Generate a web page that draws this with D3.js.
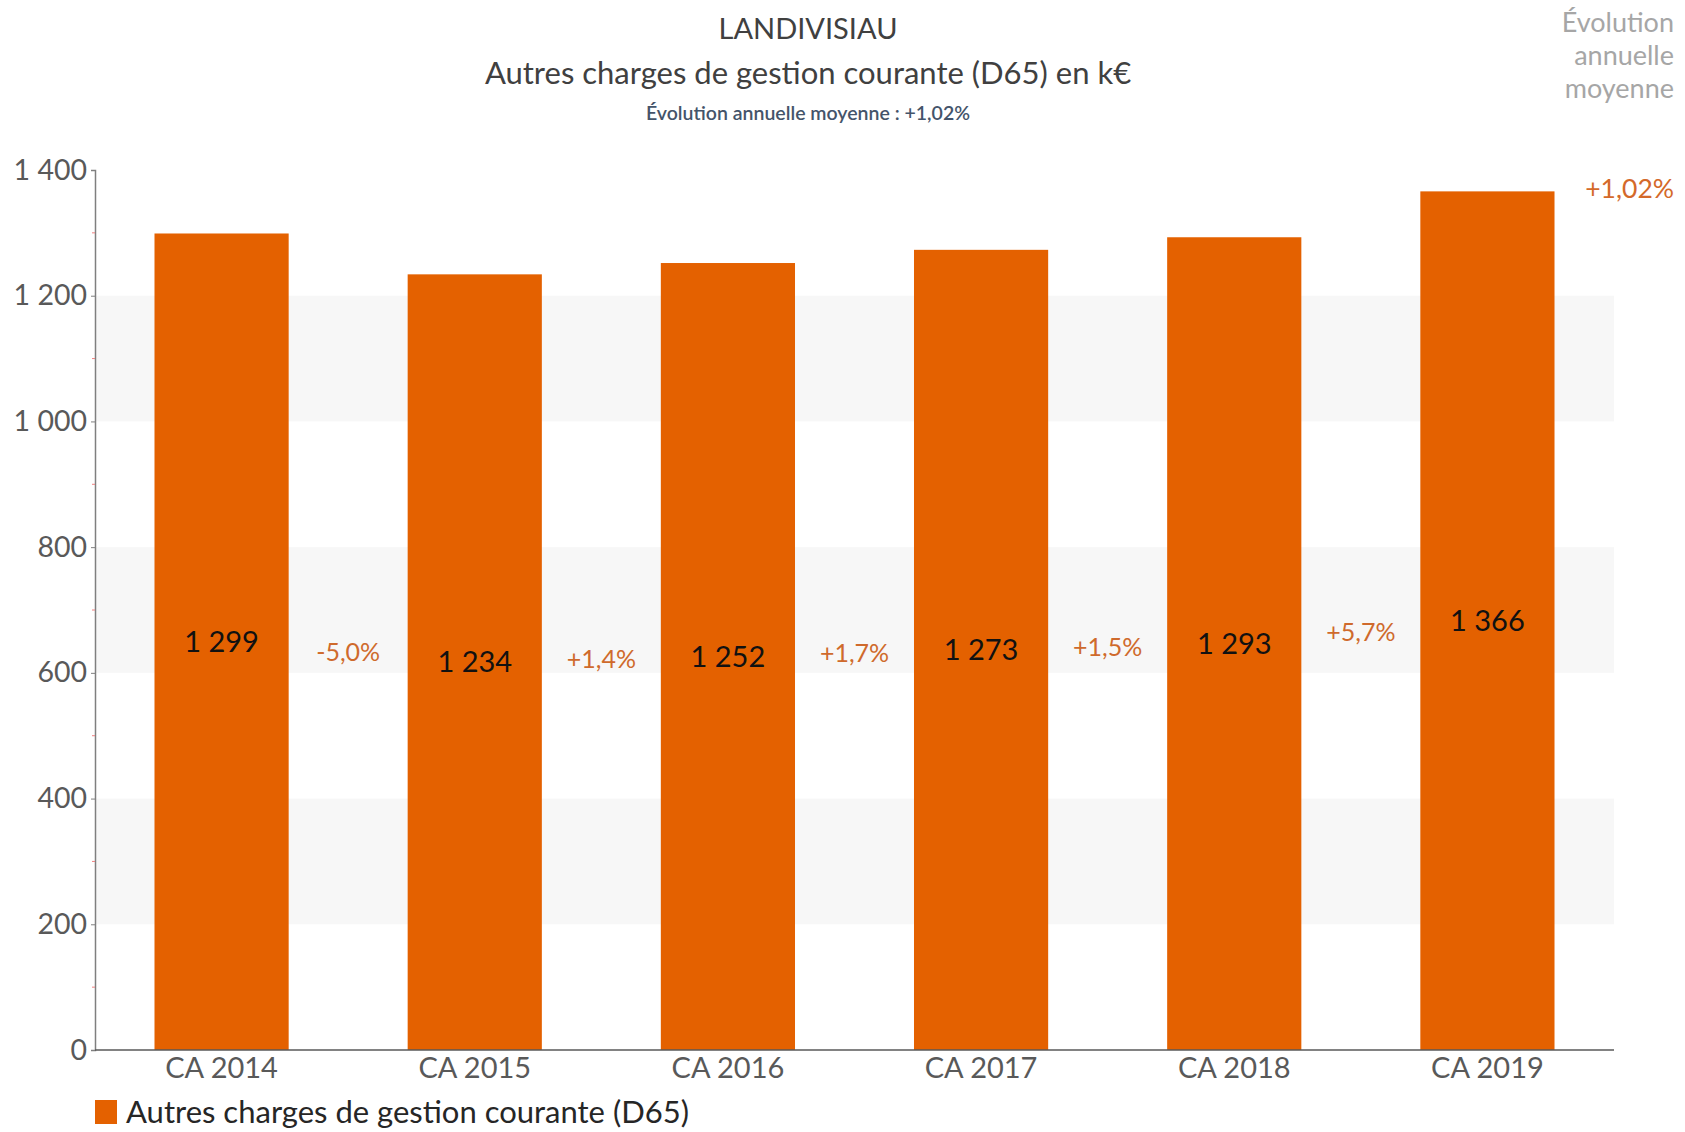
<!DOCTYPE html>
<html>
<head>
<meta charset="utf-8">
<script src="https://cdn.jsdelivr.net/npm/d3@7"></script>
<style>
  body { margin: 0; background: #fff; }
  text { font-family: Lato, "Open Sans", sans-serif; }
</style>
</head>
<body>
<div id="chart"></div>
<script>
// data
const categories = ["CA 2014", "CA 2015", "CA 2016", "CA 2017", "CA 2018", "CA 2019"];
const values = [1299, 1234, 1252, 1273, 1293, 1366];
const changes = ["-5,0%", "+1,4%", "+1,7%", "+1,5%", "+5,7%"];
const yTicks = [0, 200, 400, 600, 800, 1000, 1200, 1400];
const avgChange = "+1,02%";

const width = 1685, height = 1132;
const margin = { left: 95, right: 71, top: 170, bottom: 82 };
const orange = "#e46100";

const svg = d3.select("#chart").append("svg")
  .attr("width", width)
  .attr("height", height);

const x = d3.scaleBand()
  .domain(categories)
  .range([margin.left, width - margin.right])
  .paddingInner(0.47)
  .paddingOuter(0.235);

const y = d3.scaleLinear()
  .domain([0, 1400])
  .range([height - margin.bottom, margin.top]);

// shaded bands
const bands = [[200, 400], [600, 800], [1000, 1200]];
svg.selectAll("rect.band")
  .data(bands)
  .enter().append("rect")
  .attr("class", "band")
  .attr("x", margin.left)
  .attr("width", width - margin.right - margin.left)
  .attr("y", d => y(d[1]))
  .attr("height", d => y(d[0]) - y(d[1]))
  .attr("fill", "#f7f7f7");

// bars
svg.selectAll("rect.bar")
  .data(values)
  .enter().append("rect")
  .attr("class", "bar")
  .attr("x", (d, i) => x(categories[i]))
  .attr("width", x.bandwidth())
  .attr("y", d => y(d))
  .attr("height", d => y(0) - y(d))
  .attr("fill", orange);

// y axis
const yAxis = d3.axisLeft(y).tickValues(yTicks).tickSize(4)
  .tickFormat(d => d3.format(",")(d).replace(",", " "));
const gy = svg.append("g")
  .attr("transform", `translate(${margin.left},0)`)
  .call(yAxis);
gy.select(".domain").attr("stroke", "#7f7f7f").attr("stroke-width", 1.5);
gy.selectAll(".tick line").attr("stroke", "#7f7f7f");
gy.selectAll(".tick text")
  .attr("x", -8)
  .attr("fill", "#595959")
  .style("font-size", "28.5px")
  .style("font-family", "Lato, sans-serif");

// minor pink ticks
svg.selectAll("line.minor")
  .data(d3.range(100, 1400, 200))
  .enter().append("line")
  .attr("x1", margin.left - 3).attr("x2", margin.left)
  .attr("y1", d => y(d)).attr("y2", d => y(d))
  .attr("stroke", "#f08080").attr("stroke-width", 1);

// x axis
svg.append("line")
  .attr("x1", margin.left).attr("x2", width - margin.right)
  .attr("y1", y(0)).attr("y2", y(0))
  .attr("stroke", "#595959").attr("stroke-width", 1.5);

svg.selectAll("text.xlab")
  .data(categories)
  .enter().append("text")
  .attr("class", "xlab")
  .attr("x", d => x(d) + x.bandwidth() / 2)
  .attr("y", y(0) + 28)
  .attr("text-anchor", "middle")
  .attr("fill", "#595959")
  .style("font-size", "29px")
  .text(d => d);

// value labels at mid bar
const fmt = v => d3.format(",")(v).replace(",", " ");
svg.selectAll("text.val")
  .data(values)
  .enter().append("text")
  .attr("class", "val")
  .attr("x", (d, i) => x(categories[i]) + x.bandwidth() / 2)
  .attr("y", d => y(d / 2))
  .attr("dy", "0.35em")
  .attr("text-anchor", "middle")
  .attr("fill", "#111")
  .style("font-size", "29px")
  .text(fmt);

// change labels between bars
svg.selectAll("text.chg")
  .data(changes)
  .enter().append("text")
  .attr("class", "chg")
  .attr("x", (d, i) => (x(categories[i]) + x(categories[i + 1]) + x.bandwidth()) / 2)
  .attr("y", (d, i) => y((values[i] + values[i + 1]) / 4))
  .attr("dy", "0.35em")
  .attr("text-anchor", "middle")
  .attr("fill", "#cf6a2c")
  .style("font-size", "25px")
  .text(d => d);

// titles
svg.append("text")
  .attr("x", 808).attr("y", 29).attr("dy", "0.35em")
  .attr("text-anchor", "middle").attr("fill", "#404040")
  .style("font-size", "29px")
  .text("LANDIVISIAU");
svg.append("text")
  .attr("x", 808).attr("y", 73).attr("dy", "0.35em")
  .attr("text-anchor", "middle").attr("fill", "#404040")
  .style("font-size", "31px")
  .text("Autres charges de gestion courante (D65) en k€");
svg.append("text")
  .attr("x", 808).attr("y", 113).attr("dy", "0.35em")
  .attr("text-anchor", "middle").attr("fill", "#44546a")
  .style("font-size", "19.5px").style("font-weight", "600")
  .text("Évolution annuelle moyenne : " + avgChange);

// right side note
const note = ["Évolution", "annuelle", "moyenne"];
svg.selectAll("text.note")
  .data(note)
  .enter().append("text")
  .attr("class", "note")
  .attr("x", 1674)
  .attr("y", (d, i) => 23 + i * 33)
  .attr("dy", "0.35em")
  .attr("text-anchor", "end")
  .attr("fill", "#a6a6a6")
  .style("font-size", "27px")
  .text(d => d);
svg.append("text")
  .attr("x", 1674).attr("y", 189).attr("dy", "0.35em")
  .attr("text-anchor", "end").attr("fill", "#d4692a")
  .style("font-size", "26.5px")
  .text(avgChange);

// legend
const legend = svg.append("g").attr("transform", `translate(95,1100)`);
legend.append("rect").attr("width", 22).attr("height", 24).attr("fill", orange);
legend.append("text")
  .attr("x", 31).attr("y", 12).attr("dy", "0.35em")
  .attr("fill", "#262626")
  .style("font-size", "31px")
  .text("Autres charges de gestion courante (D65)");
</script>
</body>
</html>
